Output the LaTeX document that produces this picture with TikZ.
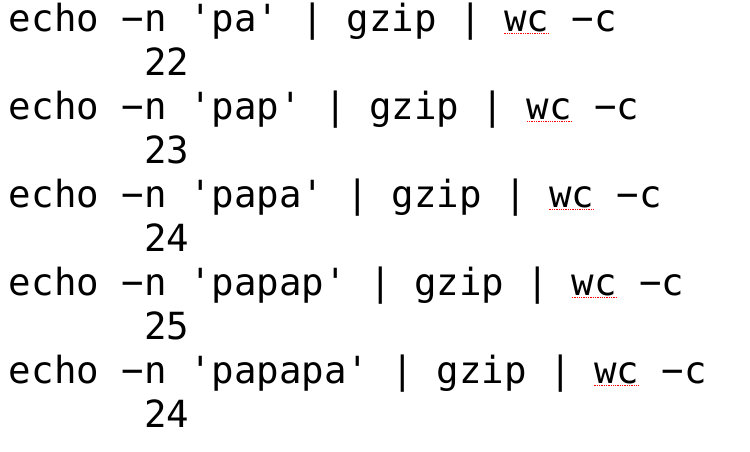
\documentclass[tikz,border=0pt]{standalone}
\usepackage{fontspec}
\setmonofont{DejaVu Sans Mono}
\usepackage{tikz}
\usetikzlibrary{positioning}
\tikzset{shell/.style = {font=\ttfamily\fontsize{37.4}{44}\selectfont, inner sep=0pt, outer sep=0pt, anchor=base west},
         spell/.style = {red, line width=1.3pt, dash pattern=on 1.3pt off 1pt}}

\begin{document}
\begin{tikzpicture}[x=1pt,y=1pt,node distance=22.5pt]
                \useasboundingbox (0,0) rectangle (750,-452);

                \node[shell] (cmd1) at (9,-31.5) {echo −n 'pa' | gzip |};
                \node[shell] (wc1) [base right=of cmd1] {wc};
                \node[shell] (opt1) [base right=of wc1] {−c};
                \node[shell] (out1) at (144,-75.5) {22};

                \node[shell] (cmd2) at (9,-119.5) {echo −n 'pap' | gzip |};
                \node[shell] (wc2) [base right=of cmd2] {wc};
                \node[shell] (opt2) [base right=of wc2] {−c};
                \node[shell] (out2) at (144,-163.5) {23};

                \node[shell] (cmd3) at (9,-207.5) {echo −n 'papa' | gzip |};
                \node[shell] (wc3) [base right=of cmd3] {wc};
                \node[shell] (opt3) [base right=of wc3] {−c};
                \node[shell] (out3) at (144,-251.5) {24};

                \node[shell] (cmd4) at (9,-295.5) {echo −n 'papap' | gzip |};
                \node[shell] (wc4) [base right=of cmd4] {wc};
                \node[shell] (opt4) [base right=of wc4] {−c};
                \node[shell] (out4) at (144,-339.5) {25};

                \node[shell] (cmd5) at (9,-383.5) {echo −n 'papapa' | gzip |};
                \node[shell] (wc5) [base right=of cmd5] {wc};
                \node[shell] (opt5) [base right=of wc5] {−c};
                \node[shell] (out5) at (144,-427.5) {24};

                % spell check marks under wc
                \draw[spell] ([yshift=-2pt]wc1.base west) -- ([yshift=-2pt]wc1.base east);
                \draw[spell] ([yshift=-2pt]wc2.base west) -- ([yshift=-2pt]wc2.base east);
                \draw[spell] ([yshift=-2pt]wc3.base west) -- ([yshift=-2pt]wc3.base east);
                \draw[spell] ([yshift=-2pt]wc4.base west) -- ([yshift=-2pt]wc4.base east);
                \draw[spell] ([yshift=-2pt]wc5.base west) -- ([yshift=-2pt]wc5.base east);
            \end{tikzpicture}
\end{document}
